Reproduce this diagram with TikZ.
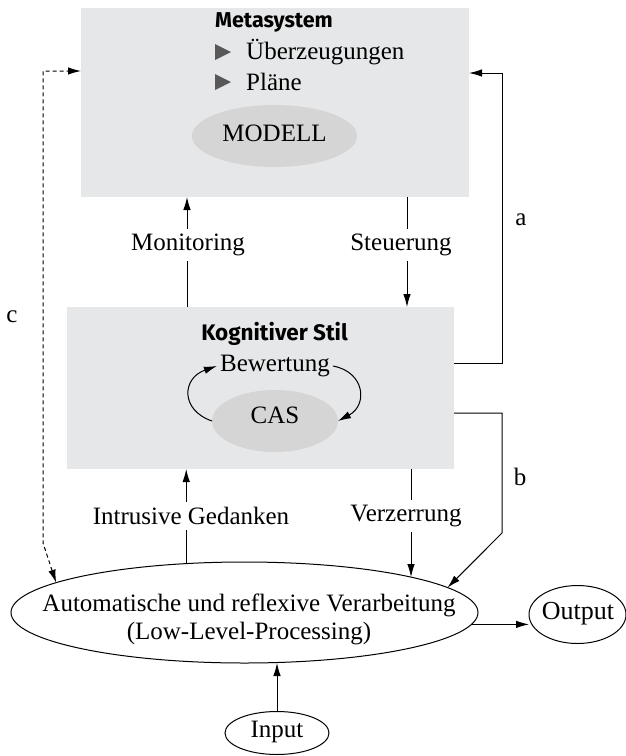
\documentclass[tikz,border=0pt]{standalone}
\usepackage{fontspec}
\setmainfont{Liberation Serif}
\newfontfamily\headfont{Fira Sans}
\usetikzlibrary{arrows.meta,shapes.geometric}
\definecolor{boxgray}{HTML}{E6E7E8}
\definecolor{ellgray}{HTML}{D5D5D6}
\definecolor{trigray}{HTML}{585858}
\tikzset{
  box/.style={fill=boxgray, inner sep=0pt, outer sep=0pt},
  blob/.style={ellipse, fill=ellgray, inner sep=0pt, outer sep=0pt},
  oval/.style={ellipse, draw, line width=1pt, inner sep=0pt, outer sep=0pt},
  txt/.style={font=\fontsize{25}{28}\selectfont, inner sep=0pt},
  lbl/.style={font=\fontsize{25}{28}\selectfont, inner sep=5pt},
  head/.style={font=\headfont\bfseries\fontsize{21.5}{25}\selectfont, inner sep=0pt},
  ln/.style={line width=1pt},
  tip/.tip={Latex[length=13pt,width=7.5pt]},
  arr/.style={line width=1pt, -tip},
  darr/.style={line width=1pt, dash pattern=on 4pt off 3pt, tip-tip},
  tri/.style={fill=trigray}
}
\begin{document}
\begin{tikzpicture}[x=1pt,y=-1pt]
\useasboundingbox (0,0) rectangle (625,756);
% boxes
\node[box, minimum width=388, minimum height=189] (meta) at (275,102.5) {};
\node[box, minimum width=387, minimum height=162] (kog) at (260.5,388) {};
% metasystem content
\node[head] (metat) at (274,22) {Metasystem};
\fill[tri] (215,44) -- (231,52) -- (215,60) -- cycle;
\node[txt, anchor=west] (ueb) at (246,52) {Überzeugungen};
\fill[tri] (215,74) -- (231,82) -- (215,90) -- cycle;
\node[txt, anchor=west] (plan) at (246,82) {Pläne};
\node[blob, minimum width=165, minimum height=62] (modell) at (274.5,136) {};
\node[txt] (modellt) at (274.5,133) {MODELL};
% kognitiver stil content
\node[head, font=\headfont\bfseries\fontsize{22.5}{26}\selectfont] (kogt) at (274.5,334) {Kognitiver Stil};
\node[txt] (bew) at (275,366) {Bewertung};
\node[blob, minimum width=126, minimum height=62] (cas) at (275,421) {};
\node[txt] (cast) at (275,415) {CAS};
\draw[arr] (cas.west) .. controls (180,410) and (182,378) .. ([xshift=-3pt]bew.west);
\draw[arr] ([xshift=3pt]bew.east) .. controls (365,372) and (368,405) .. (cas.east);
% low level
\node[oval, minimum width=467, minimum height=101] (main) at (244.5,612.5) {};
\node[txt, align=center] (mainl) at (249,619) {Automatische und reflexive Verarbeitung\\(Low-Level-Processing)};
\node[oval, minimum width=97, minimum height=58] (out) at (577.5,614.5) {};
\node[txt, font=\fontsize{26}{28}\selectfont] (outl) at (578,614) {Output};
\node[oval, minimum width=104, minimum height=43] (inp) at (277,733) {};
\node[txt] (inpl) at (277,732) {Input};
% labels
\node[lbl] (mon) at (188,245) {Monitoring};
\node[lbl] (ste) at (401,245) {Steuerung};
\node[lbl] (intr) at (191,516) {Intrusive Gedanken};
\node[lbl] (ver) at (406,516) {Verzerrung};
\node[txt] (la) at (521,220) {a};
\node[txt] (lb) at (520,477) {b};
\node[txt] (lc) at (12,317) {c};
% monitoring / steuerung
\coordinate (mx) at (187,0);
\coordinate (sx) at (407,0);
\draw[ln] (mx |- kog.north) -- (mx |- mon.south);
\draw[arr] (mx |- mon.north) -- (mx |- meta.south);
\draw[ln] (sx |- meta.south) -- (sx |- ste.north);
\draw[arr] (sx |- ste.south) -- (sx |- kog.north);
% intrusive / verzerrung
\draw[ln] (main.140.6) -- (main.140.6 |- intr.south);
\draw[arr] (main.140.6 |- intr.north) -- (main.140.6 |- kog.south);
\draw[ln] (main.12.9 |- kog.south) -- (main.12.9 |- ver.north);
\draw[arr] (main.12.9 |- ver.south) -- (main.12.9);
% a, b, c
\coordinate (a1) at (502,363);
\coordinate (a2) at (502,73);
\draw[arr] (a1 -| kog.east) -- (a1) -- (a2) -- (a2 -| meta.east);
\coordinate (b1) at (502,413);
\coordinate (b2) at (502,533);
\draw[arr] (b1 -| kog.east) -- (b1) -- (b2) -- (main.7.5);
\coordinate (c1) at (43,71);
\coordinate (c2) at (43,543);
\draw[darr] (main.171) -- (c2) -- (c1) -- (c1 -| meta.west);
% output / input
\draw[arr] (main.-3) -- (main.-3 -| out.west);
\draw[arr] (inp.north) -- (inp.north |- main.south);
\end{tikzpicture}
\end{document}
